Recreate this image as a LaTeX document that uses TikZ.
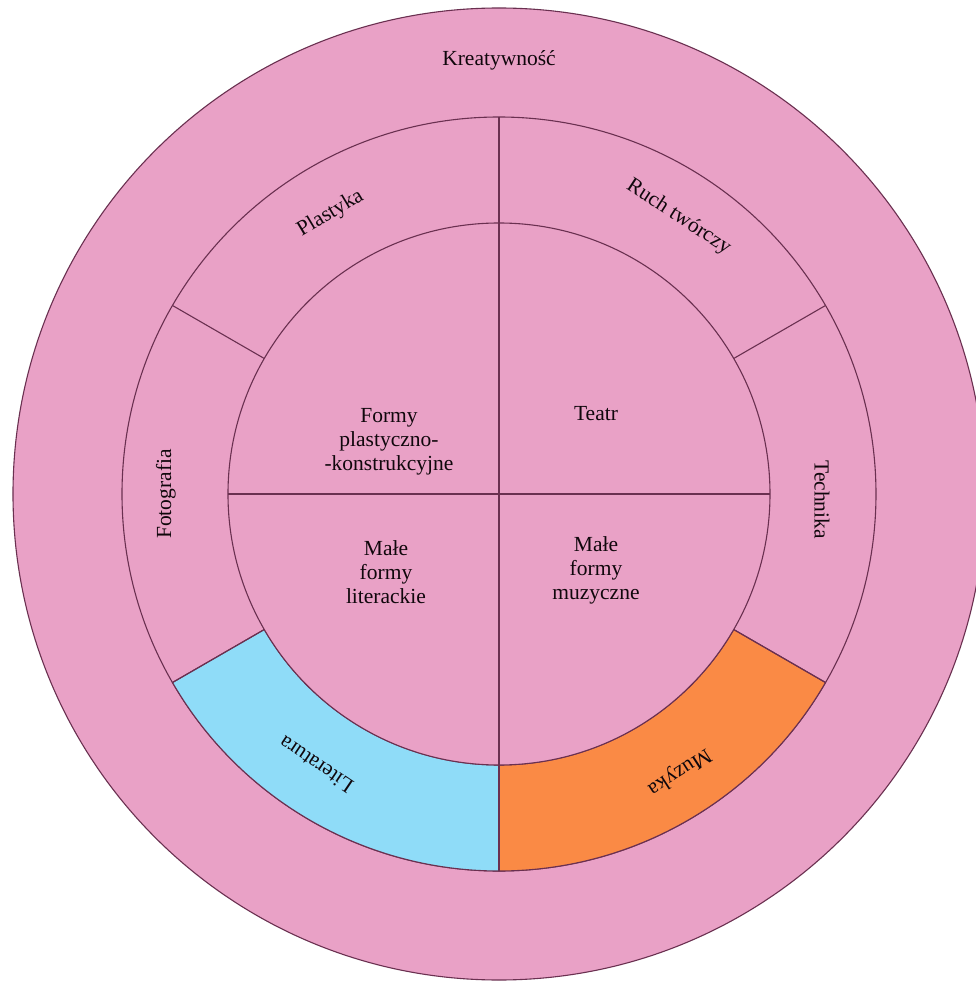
\documentclass[tikz,border=0pt]{standalone}
\usepackage{fontspec}
\setmainfont{Liberation Serif}
\definecolor{pinkfill}{HTML}{E9A1C6}
\definecolor{bluefill}{HTML}{8FDCF8}
\definecolor{orangefill}{HTML}{FA8A45}
\definecolor{edge}{HTML}{6A3050}
\begin{document}
\begin{tikzpicture}[x=1pt,y=1pt,
  ring/.style={draw=edge,line width=1.1pt},
  lbl/.style={font=\fontsize{21.5}{24}\selectfont,text=black!85!edge,align=center,inner sep=0pt}]
\useasboundingbox (-499,-489) rectangle (477,494);
\def\Ro{486}\def\Rm{377}\def\Ri{271}
% outer circle
\fill[white] (-499,-489) rectangle (477,494);
\filldraw[ring,fill=pinkfill] (0,0) circle (\Ro);
\filldraw[ring,fill=pinkfill] (0,0) circle (\Rm);
% coloured sectors
\filldraw[ring,fill=bluefill] (210:\Rm) arc (210:270:\Rm) -- (270:\Ri) arc (270:210:\Ri) -- cycle;
\filldraw[ring,fill=orangefill] (270:\Rm) arc (270:330:\Rm) -- (330:\Ri) arc (330:270:\Ri) -- cycle;
\filldraw[ring,fill=pinkfill] (0,0) circle (\Ri);
% dividers
\coordinate (c) at (0,0);
\coordinate (top) at (90:\Rm);
\coordinate (bot) at (270:\Rm);
\coordinate (lft) at (180:\Ri);
\coordinate (rgt) at (0:\Ri);
\draw[ring] (top) -- (bot);
\draw[ring] (lft) -- (rgt);
\foreach \a/\n in {150/a,30/b,210/d,330/e}{
  \coordinate (o\n) at (\a:\Rm);
  \coordinate (i\n) at (\a:\Ri);
  \draw[ring] (o\n) -- (i\n);
}
% labels
\node[lbl] (kre) at (0,434) {Kreatywność};
\node[lbl,rotate=31] (pla) at (121:327) {Plastyka};
\node[lbl,rotate=-33] (ruch) at (57:330) {Ruch twórczy};
\node[lbl,rotate=-90] (tech) at (-1:323) {Technika};
\node[lbl,rotate=90] (foto) at (180:333) {Fotografia};
\node[lbl,rotate=146] (lit) at (236:327) {Literatura};
\node[lbl,rotate=213] (muz) at (303:331) {Muzyka};
\node[lbl] (fpk) at (-110,52) {Formy\\plastyczno-\\-konstrukcyjne};
\node[lbl] (teatr) at (97,80) {Teatr};
\node[lbl] (mfl) at (-113,-78) {Małe\\formy\\literackie};
\node[lbl] (mfm) at (97,-76) {Małe\\formy\\muzyczne};
\end{tikzpicture}
\end{document}
